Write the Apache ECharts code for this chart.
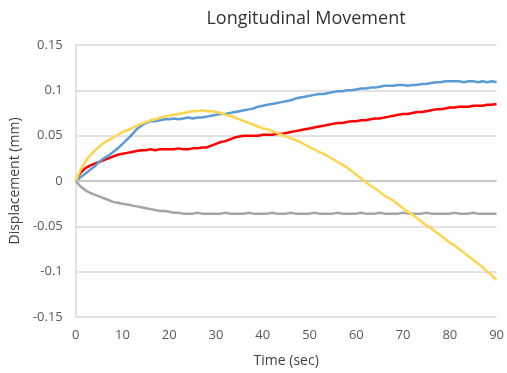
<!DOCTYPE html>
<html>
<head>
<meta charset="utf-8">
<script src="https://cdn.jsdelivr.net/npm/echarts@6/dist/echarts.min.js"></script>
<style>html,body{margin:0;padding:0;background:#fff;}#c{width:507px;height:373px;}</style>
</head>
<body>
<div id="c"></div>
<script>
var titleText = "Longitudinal Movement";
var xName = "Time (sec)";
var yName = "Displacement (mm)";
var timeSec = [];
for (var i = 0; i <= 90; i++) timeSec.push(i);

var blue = [0,0.004,0.008,0.012,0.016,0.021,0.025,0.028,0.032,0.036,
0.041,0.046,0.051,0.057,0.061,0.064,0.066,0.066,0.067,0.068,
0.068,0.069,0.068,0.069,0.070,0.069,0.070,0.070,0.071,0.072,
0.073,0.074,0.074,0.075,0.076,0.077,0.078,0.079,0.080,0.082,
0.083,0.084,0.085,0.086,0.087,0.088,0.089,0.091,0.092,0.093,
0.094,0.095,0.096,0.096,0.097,0.098,0.099,0.099,0.100,0.100,
0.101,0.102,0.102,0.103,0.103,0.104,0.105,0.105,0.105,0.106,
0.106,0.105,0.106,0.106,0.107,0.107,0.108,0.109,0.109,0.110,
0.110,0.110,0.110,0.109,0.110,0.110,0.109,0.110,0.109,0.110,0.109];

var red = [0,0.009,0.014,0.017,0.019,0.021,0.023,0.025,0.027,0.029,
0.030,0.031,0.032,0.033,0.034,0.034,0.035,0.034,0.035,0.035,
0.035,0.035,0.036,0.035,0.035,0.036,0.036,0.037,0.037,0.039,
0.041,0.043,0.044,0.046,0.048,0.049,0.050,0.050,0.050,0.050,
0.051,0.051,0.051,0.052,0.052,0.053,0.054,0.055,0.056,0.057,
0.058,0.059,0.060,0.061,0.062,0.063,0.064,0.064,0.065,0.066,
0.066,0.067,0.067,0.068,0.069,0.069,0.070,0.071,0.072,0.073,
0.074,0.074,0.075,0.076,0.076,0.077,0.078,0.079,0.079,0.080,
0.081,0.081,0.082,0.082,0.082,0.083,0.083,0.083,0.084,0.084,0.085];

var yellow = [0,0.012,0.021,0.028,0.033,0.038,0.042,0.045,0.048,0.051,
0.054,0.056,0.058,0.061,0.063,0.065,0.067,0.068,0.070,0.071,
0.072,0.073,0.074,0.075,0.076,0.077,0.077,0.078,0.077,0.077,
0.076,0.075,0.073,0.072,0.070,0.068,0.066,0.064,0.062,0.060,
0.058,0.057,0.055,0.053,0.051,0.049,0.047,0.045,0.043,0.040,
0.037,0.035,0.032,0.030,0.027,0.024,0.021,0.018,0.015,0.011,
0.007,0.003,-0.001,-0.005,-0.008,-0.012,-0.016,-0.019,-0.022,-0.026,
-0.030,-0.034,-0.037,-0.041,-0.045,-0.049,-0.052,-0.056,-0.060,-0.064,
-0.068,-0.071,-0.075,-0.079,-0.083,-0.087,-0.091,-0.095,-0.100,-0.104,-0.109];

var gray = [0,-0.006,-0.010,-0.013,-0.015,-0.017,-0.019,-0.021,-0.023,-0.024,
-0.025,-0.026,-0.027,-0.028,-0.029,-0.030,-0.031,-0.032,-0.033,-0.033,
-0.034,-0.035,-0.035,-0.036,-0.036,-0.036,-0.035,-0.036,-0.036,-0.036,
-0.036,-0.036,-0.035,-0.036,-0.036,-0.036,-0.036,-0.035,-0.036,-0.036,
-0.036,-0.036,-0.035,-0.036,-0.036,-0.036,-0.035,-0.036,-0.036,-0.036,
-0.036,-0.035,-0.036,-0.036,-0.036,-0.036,-0.035,-0.036,-0.036,-0.036,
-0.036,-0.035,-0.036,-0.036,-0.036,-0.035,-0.036,-0.036,-0.036,-0.036,
-0.035,-0.036,-0.036,-0.036,-0.036,-0.035,-0.036,-0.036,-0.036,-0.036,
-0.036,-0.035,-0.036,-0.036,-0.036,-0.035,-0.036,-0.036,-0.036,-0.036,-0.036];

function pairs(vals){ return timeSec.map(function(t,i){ return [t, vals[i]]; }); }

var font = "'Open Sans', 'Noto Sans', sans-serif";
var chart = echarts.init(document.getElementById('c'), null, {renderer:'canvas'});
function lineSeries(name, vals, color, z, extra){
  var s = {name:name, type:'line', data:pairs(vals), showSymbol:false, symbol:'none',
    lineStyle:{color:color, width:2.5}, itemStyle:{color:color}, animation:false, z:z};
  if (extra) for (var k in extra) s[k]=extra[k];
  return s;
}
chart.setOption({
  animation:false,
  textStyle:{fontFamily:font},
  title:{text:titleText, left:301, top:5, textAlign:'center',
    textStyle:{fontFamily:font, fontSize:18, fontWeight:'normal', color:'#333333'}},
  grid:{left:75, right:10, top:45, bottom:53, containLabel:false},
  xAxis:{type:'value', min:0, max:90, interval:10,
    name:xName, nameLocation:'middle', nameGap:37,
    nameTextStyle:{fontFamily:font, fontSize:14, color:'#404040'},
    axisLine:{show:false, onZero:false}, axisTick:{show:false},
    axisLabel:{fontFamily:font, fontSize:13, color:'#595959', margin:12},
    splitLine:{show:false}},
  yAxis:{type:'value', min:-0.15, max:0.15, interval:0.05,
    name:yName, nameLocation:'middle', nameGap:47,
    nameTextStyle:{fontFamily:font, fontSize:14, color:'#404040'},
    axisLine:{show:true, lineStyle:{color:'#d9d9d9', width:1.5}}, axisTick:{show:false},
    axisLabel:{fontFamily:font, fontSize:13, color:'#595959', margin:13,
      formatter:function(v){ var r=Math.round(v*100)/100; return r===0?'0':String(r); }},
    splitLine:{show:true, lineStyle:{color:'#d9d9d9', width:1.5}}},
  series:[
    lineSeries('Gray', gray, '#a5a5a5', 2, {markLine:{silent:true, symbol:'none', label:{show:false},
      lineStyle:{color:'#bfbfbf', width:1.5, type:'solid'}, data:[{yAxis:0}], animation:false}}),
    lineSeries('Red', red, '#ff0000', 3),
    lineSeries('Blue', blue, '#5b9bd5', 4),
    lineSeries('Yellow', yellow, '#ffd44f', 5)
  ]
});
</script>
</body>
</html>
